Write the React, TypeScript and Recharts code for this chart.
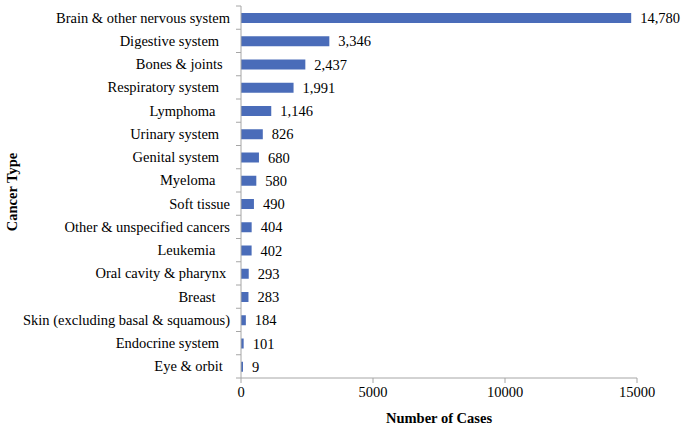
import React from "react";
import { BarChart, Bar, XAxis, YAxis, LabelList } from "recharts";

// labels keep their trailing spaces, as in the source sheet
const CATEGORIES = [
  "Brain & other nervous system",
  "Digestive system   ",
  "Bones & joints  ",
  "Respiratory system   ",
  "Lymphoma    ",
  "Urinary system   ",
  "Genital system   ",
  "Myeloma    ",
  "Soft tissue",
  "Other & unspecified cancers",
  "Leukemia    ",
  "Oral cavity & pharynx ",
  "Breast    ",
  "Skin (excluding basal & squamous)",
  "Endocrine system   ",
  "Eye & orbit  ",
];

const CASES = [14780, 3346, 2437, 1991, 1146, 826, 680, 580, 490, 404, 402, 293, 283, 184, 101, 9];

const X_TICKS = [0, 5000, 10000, 15000];

const FONT = '"Liberation Serif", "Times New Roman", serif';
const FS = 14.5;
const AXIS_COLOR = "#a6a6a6";
const BAR_COLOR = "#4a6cb9";

const data = CATEGORIES.map((name, i) => ({ name, cases: CASES[i] }));

const WIDTH = 683;
const HEIGHT = 429;
const MARGIN = { top: 6, right: 46, bottom: 0, left: 0 };
const Y_WIDTH = 241;
const X_HEIGHT = 51;
const BAND = (HEIGHT - MARGIN.top - MARGIN.bottom - X_HEIGHT) / CATEGORIES.length;

const textStyle = { fill: "#000", fontSize: FS, fontFamily: FONT };

function CategoryTick(props: any) {
  const { y, payload, index } = props;
  const axisX = Y_WIDTH;
  const top = y - BAND / 2;
  return (
    <g>
      <line x1={axisX - 5} x2={axisX} y1={top} y2={top} stroke={AXIS_COLOR} />
      {index === CATEGORIES.length - 1 && (
        <line x1={axisX - 5} x2={axisX} y1={y + BAND / 2} y2={y + BAND / 2} stroke={AXIS_COLOR} />
      )}
      <text
        x={axisX - 11}
        y={y}
        dy="0.35em"
        textAnchor="end"
        style={{ ...textStyle, whiteSpace: "pre" }}
      >
        {payload.value}
      </text>
    </g>
  );
}

export default function App() {
  return (
    <div style={{ position: "absolute", left: 0, top: 0, background: "#fff", fontFamily: FONT }}>
      <BarChart
        width={WIDTH}
        height={HEIGHT}
        data={data}
        layout="vertical"
        margin={MARGIN}
        barCategoryGap="28%"
      >
        <XAxis
          type="number"
          domain={[0, 15000]}
          ticks={X_TICKS}
          height={X_HEIGHT}
          stroke={AXIS_COLOR}
          tickSize={5}
          tickMargin={4}
          tick={{ ...textStyle, style: textStyle }}
          label={{
            value: "Number of Cases",
            position: "insideBottom",
            offset: 6,
            style: { ...textStyle, fontWeight: "bold" },
          }}
        />
        <YAxis
          type="category"
          dataKey="name"
          width={Y_WIDTH}
          stroke={AXIS_COLOR}
          tickLine={false}
          interval={0}
          tick={<CategoryTick />}
          label={{
            value: "Cancer Type",
            angle: -90,
            position: "insideLeft",
            offset: 12,
            style: { ...textStyle, fontWeight: "bold", textAnchor: "middle" },
          }}
        />
        <Bar dataKey="cases" fill={BAR_COLOR} barSize={10} minPointSize={2} isAnimationActive={false}>
          <LabelList
            dataKey="cases"
            position="right"
            offset={9}
            formatter={(v: any) => Number(v).toLocaleString("en-US")}
            style={textStyle}
          />
        </Bar>
      </BarChart>
    </div>
  );
}
